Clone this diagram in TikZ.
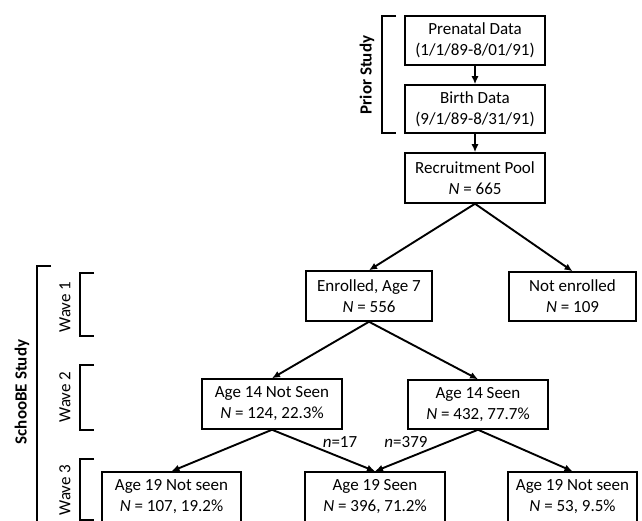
\documentclass[tikz,border=0pt]{standalone}
\usepackage{fontspec}
\setmainfont{Carlito}
\usetikzlibrary{arrows.meta}
\begin{document}
\begin{tikzpicture}[x=1pt,y=-1pt,
  box/.style={draw, line width=1.5pt, inner sep=0pt, align=center, font=\fontsize{17}{21}\selectfont},
  arr/.style={line width=1.9pt, -{Latex[length=8pt,width=7pt]}},
  brk/.style={line width=1.9pt},
  lab/.style={font=\fontsize{17}{20}\selectfont, rotate=90},
  nlab/.style={font=\fontsize{17}{20}\selectfont}]
\clip (0,0) rectangle (642,521);
\fill[white] (0,0) rectangle (642,521);
% boxes
\node[box, minimum width=140pt, minimum height=49pt] (pre) at (475,40.5) {Prenatal Data\\(1/1/89-8/01/91)};
\node[box, minimum width=140pt, minimum height=48pt] (birth) at (475,109) {Birth Data\\(9/1/89-8/31/91)};
\node[box, minimum width=140pt, minimum height=50pt] (pool) at (475,178) {Recruitment Pool\\\textit{N} = 665};
\node[box, minimum width=126pt, minimum height=50pt] (enr) at (369,296) {Enrolled, Age 7\\\textit{N} = 556};
\node[box, minimum width=127pt, minimum height=49pt] (notenr) at (572.5,296.5) {Not enrolled\\\textit{N} = 109};
\node[box, minimum width=140pt, minimum height=50pt] (ns14) at (272,404) {Age 14 Not Seen\\\textit{N} = 124, 22.3\%};
\node[box, minimum width=140pt, minimum height=49pt] (s14) at (478,404.5) {Age 14 Seen\\\textit{N} = 432, 77.7\%};
\node[box, minimum width=139pt, minimum height=50pt] (ns19a) at (171.5,497) {Age 19 Not seen\\\textit{N} = 107, 19.2\%};
\node[box, minimum width=140pt, minimum height=50pt] (s19) at (375,497) {Age 19 Seen\\\textit{N} = 396, 71.2\%};
\node[box, minimum width=129pt, minimum height=50pt] (ns19b) at (572.5,497) {Age 19 Not seen\\\textit{N} = 53, 9.5\%};
% arrows
\draw[arr] (pre.south) -- (birth.north);
\draw[arr] (birth.south) -- (pool.north);
\draw[arr] (pool.south) -- (enr.north);
\draw[arr] (pool.south) -- (notenr.north);
\draw[arr] (enr.south) -- (ns14.north);
\draw[arr] (enr.south) -- (s14.north);
\draw[arr] (ns14.south) -- (ns19a.north);
\draw[arr] (ns14.south) -- (s19.north);
\draw[arr] (s14.south) -- (s19.north);
\draw[arr] (s14.south) -- (ns19b.north);
\node[nlab] (n17) at (340,442) {\textit{n}=17};
\node[nlab] (n379) at (406,442) {\textit{n}=379};
% brackets
\draw[brk] (396,16) -- (382,16) -- (382,133) -- (396,133);
\node[lab, font=\fontsize{17}{20}\selectfont\bfseries] (prior) at (367,75) {Prior Study};
\draw[brk] (51,266) -- (37,266) -- (37,530);
\node[lab, font=\fontsize{17}{20}\selectfont\bfseries] (schoobe) at (22,392) {SchooBE Study};
\draw[brk] (94,273) -- (80,273) -- (80,336) -- (94,336);
\node[lab] (w1) at (65,307) {Wave 1};
\draw[brk] (94,365) -- (80,365) -- (80,430) -- (94,430);
\node[lab] (w2) at (65,397) {Wave 2};
\draw[brk] (94,459) -- (80,459) -- (80,520) -- (94,520);
\node[lab] (w3) at (65,490) {Wave 3};
\end{tikzpicture}
\end{document}
